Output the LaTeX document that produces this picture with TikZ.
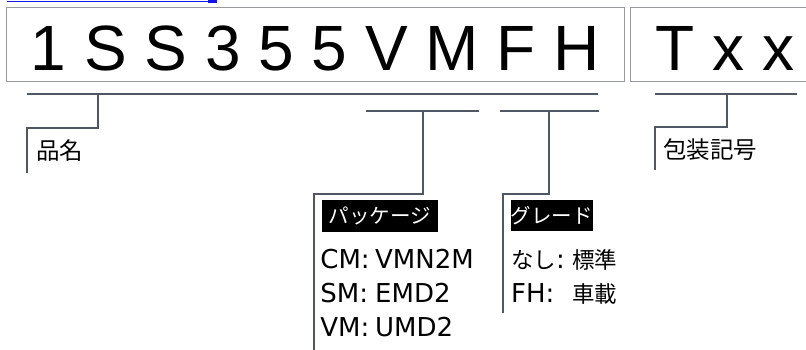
\documentclass[tikz,border=0pt]{standalone}
\usepackage{fontspec}
\setmainfont{DejaVu Sans}
\newfontfamily\codefont{Liberation Sans}
\newfontfamily\jpfont{Noto Sans CJK JP}
\definecolor{leadgray}{RGB}{78,87,98}
\definecolor{boxgray}{RGB}{150,154,160}
\definecolor{linkblue}{RGB}{20,20,230}
\newcommand\pkgrow[2]{\makebox[54.8pt][l]{#1}#2}
\newcommand\grdrow[2]{\makebox[61pt][l]{#1}#2}
\newcommand\jprow[1]{{\jpfont\fontsize{22.5}{26}\selectfont #1}}
\tikzset{
  codebox/.style={
    rectangle, draw=boxgray, line width=1.1pt, inner sep=0pt,
    font=\codefont\fontsize{64}{70}\selectfont,
    text height=51.5pt, text depth=0pt, minimum height=74pt},
  lead/.style={draw=leadgray, line width=2pt},
  jplbl/.style={font=\jpfont\fontsize{23.5}{26}\selectfont, inner sep=0pt, anchor=west},
  tagbox/.style={fill=black, text=white, inner sep=0pt,
                 font=\jpfont\fontsize{20.5}{23}\selectfont},
  rowtxt/.style={font=\fontsize{26}{30}\selectfont, inner sep=0pt, anchor=base west},
}
\begin{document}
\begin{tikzpicture}[x=1pt, y=-1pt]
\clip (0,0) rectangle (806,350);

% link frame, cut by the top edge
\draw[linkblue, line width=1.3pt] (7,1.6) -- (216,1.6);
\fill[linkblue] (208,0) rectangle (216.5,2.7);

%% == CODE BOXES ==============================================================
\node[codebox, minimum width=617.6pt] (code) at (315.5,44.3) {1 S S 3 5 5 V M F H};
\node[codebox, minimum width=188.3pt] (pack) at (724.9,44.3) {T x x};

%% == 品名 =====================================================================
\coordinate (nmL) at (27,94);
\coordinate (nmR) at (598,94);
\coordinate (nmT) at (98,94);
\coordinate (nmK) at (27,128);
\coordinate (nmE) at (27,173);
\draw[lead] (nmL) -- (nmR);
\draw[lead] (nmT) |- (nmK) -- (nmE);
\node[jplbl] (name) at (36,151) {品名};

%% == パッケージ ===============================================================
\coordinate (pkL) at (366,111);
\coordinate (pkR) at (479,111);
\coordinate (pkT) at (423,111);
\coordinate (pkK) at (313.5,193.5);
\coordinate (pkE) at (313.5,352);
\draw[lead] (pkL) -- (pkR);
\draw[lead] (pkT) |- (pkK) -- (pkE);
\node[tagbox, minimum width=116.6pt, minimum height=31.7pt] (pktag) at (380,215.9) {パッケージ};
\node[rowtxt] (cm) at (320.2,268) {\pkgrow{CM:}{VMN2M}};
\node[rowtxt] (sm) at (320.2,302) {\pkgrow{SM:}{EMD2}};
\node[rowtxt] (vm) at (320.2,336) {\pkgrow{VM:}{UMD2}};

%% == グレード =================================================================
\coordinate (grL) at (500,111);
\coordinate (grR) at (599,111);
\coordinate (grT) at (549.3,111);
\coordinate (grK) at (503,194);
\coordinate (grE) at (503,313);
\draw[lead] (grL) -- (grR);
\draw[lead] (grT) |- (grK) -- (grE);
\node[tagbox, minimum width=80pt, minimum height=31pt] (grtag) at (551.7,215.5) {グレード};
\node[rowtxt] (std) at (511,268) {\grdrow{\jprow{なし}:}{\jprow{標準}}};
\node[rowtxt] (fh)  at (511,302) {\grdrow{FH:}{\jprow{車載}}};

%% == 包装記号 =================================================================
\coordinate (wrL) at (655,94);
\coordinate (wrR) at (797,94);
\coordinate (wrT) at (727.3,94);
\coordinate (wrK) at (655,127);
\coordinate (wrE) at (655,170);
\draw[lead] (wrL) -- (wrR);
\draw[lead] (wrT) |- (wrK) -- (wrE);
\node[jplbl] (wrap) at (663,150) {包装記号};
\end{tikzpicture}
\end{document}
